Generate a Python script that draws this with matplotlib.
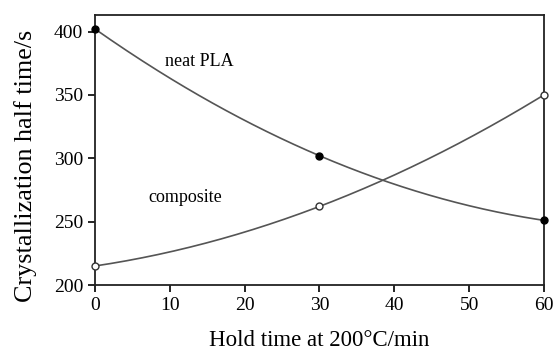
import numpy as np
import matplotlib.pyplot as plt

plt.rcParams['font.family'] = ['Liberation Serif', 'DejaVu Serif']

hold_time = [0, 30, 60]
neat_pla = [402, 302, 251]
composite = [215, 262, 350]


def smooth(x, y):
    # quadratic curve through the three measured points
    c = np.polyfit(x, y, 2)
    xs = np.linspace(min(x), max(x), 200)
    return xs, np.polyval(c, xs)


fig = plt.figure(figsize=(5.57, 3.5), dpi=100)
ax = fig.add_axes([0.1706, 0.1857, 0.806, 0.7713])

line_color = '#555555'
xs, ys = smooth(hold_time, neat_pla)
ax.plot(xs, ys, color=line_color, lw=1.2)
ax.plot(hold_time, neat_pla, 'o', color='black', ms=5, clip_on=False, zorder=5)

xs, ys = smooth(hold_time, composite)
ax.plot(xs, ys, color=line_color, lw=1.2)
ax.plot(hold_time, composite, 'o', mfc='white', mec='#333333', mew=1.0, ms=5,
        clip_on=False, zorder=5)

ax.text(9.3, 376, 'neat PLA', fontsize=13, va='center', ha='left')
ax.text(7.1, 269, 'composite', fontsize=13, va='center', ha='left')

ax.set_xlim(0, 60)
ax.set_ylim(200, 413)
ax.set_xticks([0, 10, 20, 30, 40, 50, 60])
ax.set_yticks([200, 250, 300, 350, 400])
ax.tick_params(axis='both', direction='out', length=5, width=1.2, labelsize=14,
               top=False, right=False)
for s in ax.spines.values():
    s.set_linewidth(1.3)
    s.set_color('#222222')

ax.set_xlabel('Hold time at 200°C/min', fontsize=16.5, labelpad=12)
ax.set_ylabel('Crystallization half time/s', fontsize=18.8)
ax.yaxis.set_label_coords(-0.13, 0.44)

plt.savefig('out.png', dpi=100)
plt.close(fig)
